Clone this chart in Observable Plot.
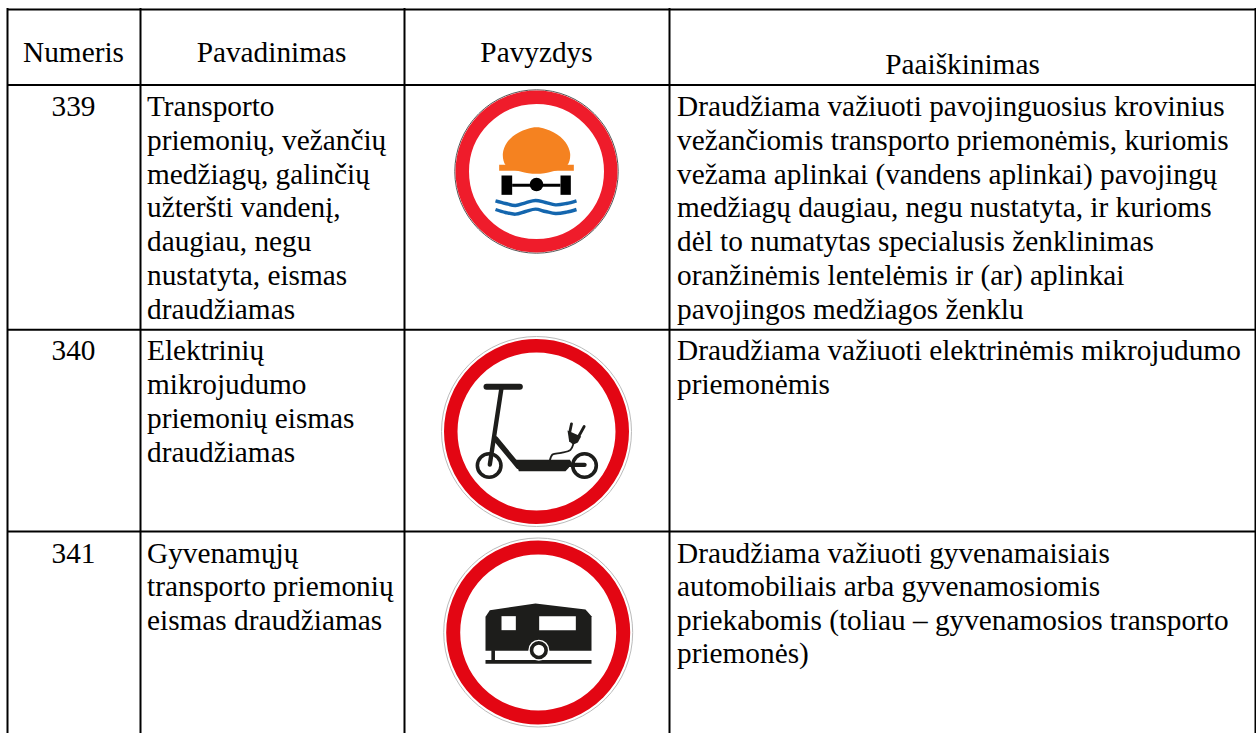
<!DOCTYPE html>
<html><head><meta charset="utf-8">
<script src="https://cdn.jsdelivr.net/npm/d3@7"></script>
<script src="https://cdn.jsdelivr.net/npm/@observablehq/plot@0.6"></script>
<style>html,body{margin:0;padding:0;background:#fff}svg{display:block}</style>
</head><body><div id="c"></div>
<script>
const W = 1256, H = 733;
const columnEdges = [7, 140, 404, 669, 1255];
const rowEdges = [9, 84.5, 329.3, 531];
const headers = ["Numeris", "Pavadinimas", "Pavyzdys", "Paaiškinimas"];
const headerCenters = [73, 271, 536, 962];
const headerY = [51.7, 51.7, 51.7, 64];
const numbers = ["339", "340", "341"];
const numberY = [106.4, 350.6, 553.3];
const lineSteps = [33.73, 33.9, 33.3];
const names = [
  ["Transporto","priemonių, vežančių","medžiagų, galinčių","užteršti vandenį,","daugiau, negu","nustatyta, eismas","draudžiamas"],
  ["Elektrinių","mikrojudumo","priemonių eismas","draudžiamas"],
  ["Gyvenamųjų","transporto priemonių","eismas draudžiamas"]
];
const explanations = [
  ["Draudžiama važiuoti pavojinguosius krovinius","vežančiomis transporto priemonėmis, kuriomis","vežama aplinkai (vandens aplinkai) pavojingų","medžiagų daugiau, negu nustatyta, ir kurioms","dėl to numatytas specialusis ženklinimas","oranžinėmis lentelėmis ir (ar) aplinkai","pavojingos medžiagos ženklu"],
  ["Draudžiama važiuoti elektrinėmis mikrojudumo","priemonėmis"],
  ["Draudžiama važiuoti gyvenamaisiais","automobiliais arba gyvenamosiomis","priekabomis (toliau – gyvenamosios transporto","priemonės)"]
];
const signs = [
  {cx:536, cy:171, outer:81.7, red:[81,67.5], color:"#EF1C2B", edge:"#555"},
  {cx:536, cy:431, outer:95, red:[92.5,79], color:"#E30613", edge:"#bbb"},
  {cx:537.7, cy:632, outer:94.5, red:[92,78], color:"#E30613", edge:"#bbb"}
];
// pictogram outlines, in tripled pixel units from each sign's own frame
const orig = [[440,85],[430,330],[430,533]];
const dome = [[196,240],[187,205],[200,170],[235,141],[288,125],[340,141],[375,170],[389,205],[380,240],[335,258],[288,265],[240,258]];
const flange = [[176,238],[400,238],[400,256],[335,256],[310,262],[265,262],[240,256],[176,256]];
const axleL = [[183,270],[215,270],[215,328],[183,328]];
const axleR = [[360,270],[391,270],[391,328],[360,328]];
const axleBar = [[215,295],[360,295],[360,304],[215,304]];
const axleHub = [[288,297]];
const waveA = [[165,346],[195,354],[225,360],[255,352],[285,345],[315,351],[345,358],[378,354],[408,346]];
const waveB = [[165,372],[195,381],[225,386],[255,378],[285,371],[315,378],[345,384],[378,380],[408,372]];
const handle = [[168,169],[268,169]];
const stem = [[213,172],[178,402]];
const neck = [[195,325],[264,408]];
const deck = [[255,388],[418,388],[423,395],[415,412],[405,422],[265,422]];
const guard = [[415,403],[462,403]];
const wheels2 = [[176,405],[462,405]];
const cable = [[428,342],[420,358],[392,367],[366,372],[358,390]];
const plug = [[411,300],[452,318],[442,336],[428,343],[416,332]];
const prongA = [[423,280],[418,304]];
const prongB = [[461,288],[446,315]];
const caravan = [[165,352],[165,250],[178,230],[315,210],[465,228],[483,248],[483,352]];
const win1 = [[213,248],[256,248],[256,290],[213,290]];
const win2 = [[326,248],[436,248],[436,290],[326,290]];
const ground = [[165,385],[483,385]];
const leg = [[188,350],[188,385]];
const wheel3 = [[325,350]];

const serif = "Liberation Serif";
const fs = 29.3;
const px = (s) => (d) => orig[s][0] + d[0] / 3;
const py = (s) => (d) => orig[s][1] + d[1] / 3;
const fillPoly = (s, pts, fill, curve) => Plot.line(pts, {x: px(s), y: py(s), fill, stroke: "none", curve: curve || "linear-closed"});
const strokeLine = (s, pts, stroke, w, curve, cap) => Plot.line(pts, {x: px(s), y: py(s), stroke, strokeWidth: w, curve: curve || "linear", strokeLinecap: cap || "round"});

const cells = [];
headers.forEach((t, i) => cells.push({x: headerCenters[i], y: headerY[i], t, a: "middle"}));
numbers.forEach((t, i) => cells.push({x: headerCenters[0], y: numberY[i], t, a: "middle"}));
names.forEach((ls, i) => ls.forEach((t, j) => cells.push({x: 146.5, y: numberY[i] + j * lineSteps[i], t, a: "start"})));
explanations.forEach((ls, i) => ls.forEach((t, j) => cells.push({x: 676.5, y: numberY[i] + j * lineSteps[i], t, a: "start"})));

const textMark = (a) => Plot.text(cells.filter(d => d.a === a), {x: "x", y: "y", text: "t", textAnchor: a, fontFamily: serif, fontSize: fs, fill: "#000", lineAnchor: "middle"});

const chart = Plot.plot({
  width: W, height: H, margin: 0,
  x: {domain: [0, W], range: [0, W], axis: null},
  y: {domain: [0, H], range: [0, H], axis: null},
  style: {background: "#fff"},
  marks: [
    Plot.ruleX(columnEdges, {x: d => d, y1: rowEdges[0] - 1, y2: H, stroke: "#000", strokeWidth: 2}),
    Plot.ruleY(rowEdges, {y: d => d, x1: columnEdges[0], x2: columnEdges[4], stroke: "#000", strokeWidth: 2}),
    textMark("middle"),
    textMark("start"),
    ...signs.map(s => Plot.dot([s], {x: "cx", y: "cy", r: s.outer, fill: "#fff", stroke: "edge", strokeWidth: 1})),
    ...signs.map(s => Plot.dot([s], {x: "cx", y: "cy", r: (s.red[0] + s.red[1]) / 2, fill: "#fff", stroke: "color", strokeWidth: s.red[0] - s.red[1]})),
    // 339
    fillPoly(0, dome, "#F58220", "catmull-rom-closed"),
    fillPoly(0, flange, "#F58220"),
    fillPoly(0, axleL, "#000"), fillPoly(0, axleR, "#000"), fillPoly(0, axleBar, "#000"),
    Plot.dot(axleHub, {x: px(0), y: py(0), r: 6.8, fill: "#000", stroke: "none"}),
    strokeLine(0, waveA, "#1466AE", 3.4, "catmull-rom", "butt"),
    strokeLine(0, waveB, "#1466AE", 3.4, "catmull-rom", "butt"),
    // 340
    strokeLine(1, handle, "#1d1d1b", 6),
    strokeLine(1, stem, "#1d1d1b", 4.4),
    strokeLine(1, neck, "#1d1d1b", 5.4),
    fillPoly(1, deck, "#1d1d1b"),
    strokeLine(1, guard, "#1d1d1b", 4.4),
    Plot.dot(wheels2, {x: px(1), y: py(1), r: 11.8, fill: "none", stroke: "#1d1d1b", strokeWidth: 3.6}),
    strokeLine(1, cable, "#1d1d1b", 1.8, "catmull-rom"),
    fillPoly(1, plug, "#1d1d1b"),
    strokeLine(1, prongA, "#1d1d1b", 2.8),
    strokeLine(1, prongB, "#1d1d1b", 2.8),
    // 341
    fillPoly(2, caravan, "#1d1d1b"),
    fillPoly(2, win1, "#fff"), fillPoly(2, win2, "#fff"),
    strokeLine(2, leg, "#1d1d1b", 3.6, "linear", "butt"),
    strokeLine(2, ground, "#1d1d1b", 3.6, "linear", "butt"),
    Plot.dot(wheel3, {x: px(2), y: py(2), r: 10.5, fill: "#fff", stroke: "none"}),
    Plot.dot(wheel3, {x: px(2), y: py(2), r: 7.3, fill: "#fff", stroke: "#1d1d1b", strokeWidth: 3.6})
  ]
});
document.getElementById("c").appendChild(chart);
</script></body></html>
